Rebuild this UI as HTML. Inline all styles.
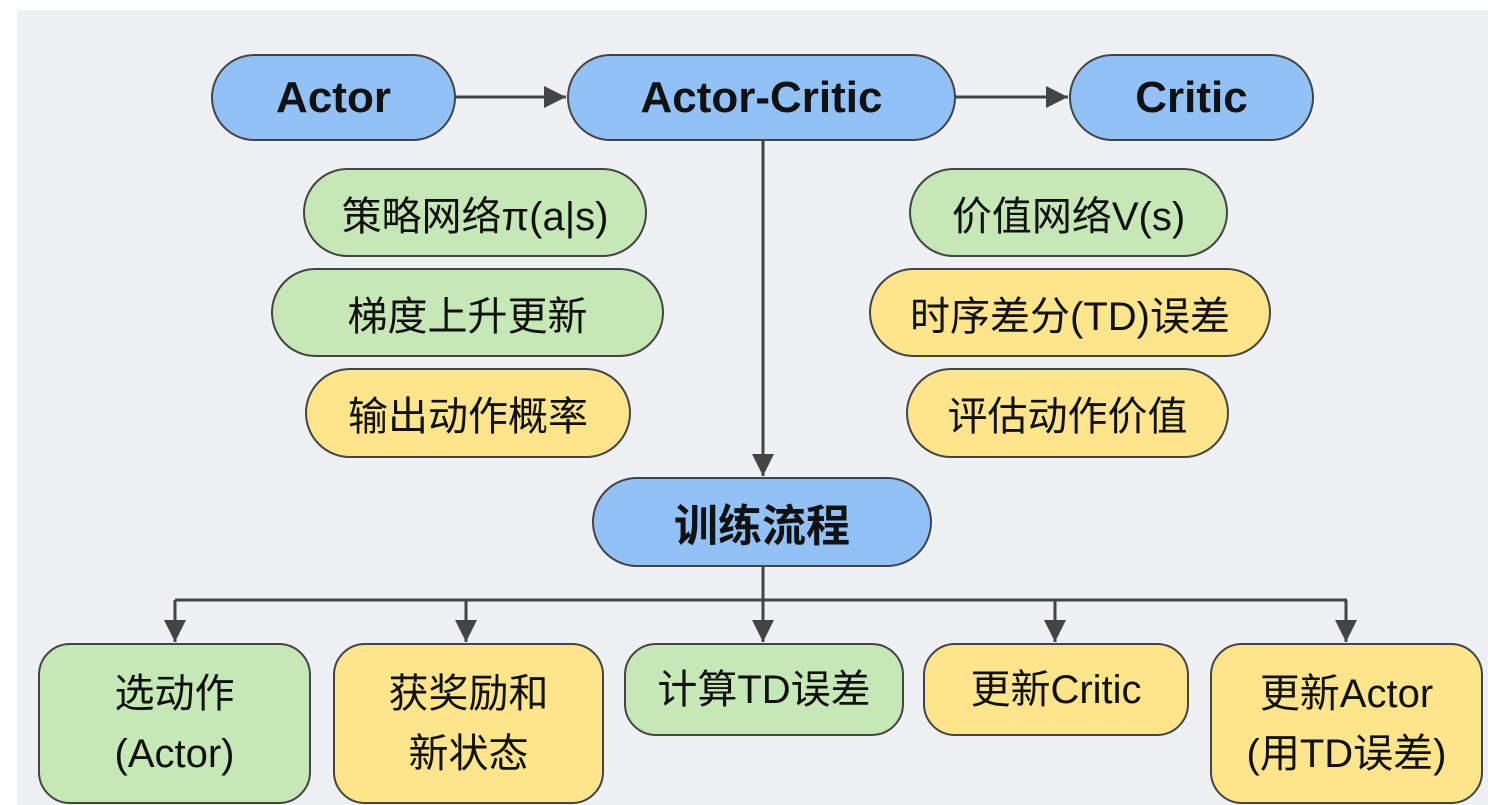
<!DOCTYPE html>
<html><head><meta charset="utf-8"><style>
body{margin:0;width:1488px;height:805px;background:#fff;position:relative;overflow:hidden;font-family:"Liberation Sans","Noto Sans CJK SC",sans-serif;}
#bg{position:absolute;left:17px;top:10px;width:1471px;height:795px;background:#eef1f3;}
.n{position:absolute;box-sizing:border-box;border:2px solid #444;display:flex;align-items:center;justify-content:center;text-align:center;color:#111;}
.b{background:#92c2f5;font-weight:bold;font-size:44px;border-radius:45px;}
.g{background:#c6e7b6;font-size:40px;border-radius:45px;}
.y{background:#fde58c;font-size:40px;border-radius:45px;}
.r{border-radius:32px;line-height:1.5;}
svg{position:absolute;left:0;top:0;}
</style></head><body>
<div id="bg"></div>
<svg width="1488" height="805">
<defs><marker id="a" markerWidth="10" markerHeight="10" refX="9" refY="5" orient="auto" markerUnits="userSpaceOnUse"><path d="M0,0 L0,0 L10,5 L0,10z" fill="#444"/></marker>
<marker id="h" viewBox="0 0 10 10" markerWidth="22" markerHeight="22" refX="10" refY="5" orient="auto" markerUnits="userSpaceOnUse"><path d="M0,0 L10,5 L0,10z" fill="#444"/></marker></defs>
<g stroke="#444" stroke-width="3" fill="none">
<line x1="455" y1="97" x2="566" y2="97" marker-end="url(#h)"/>
<line x1="955" y1="97" x2="1068" y2="97" marker-end="url(#h)"/>
<line x1="763" y1="140" x2="763" y2="476" marker-end="url(#h)"/>
<line x1="763" y1="567" x2="763" y2="642" marker-end="url(#h)"/>
<line x1="175" y1="600" x2="1347" y2="600"/>
<line x1="175" y1="600" x2="175" y2="642" marker-end="url(#h)"/>
<line x1="466" y1="600" x2="466" y2="642" marker-end="url(#h)"/>
<line x1="1055" y1="600" x2="1055" y2="642" marker-end="url(#h)"/>
<line x1="1346" y1="600" x2="1346" y2="642" marker-end="url(#h)"/>
</g></svg>
<div class="n b" style="left:211px;top:54px;width:245px;height:87px;">Actor</div>
<div class="n b" style="left:567px;top:54px;width:389px;height:87px;">Actor-Critic</div>
<div class="n b" style="left:1069px;top:54px;width:245px;height:87px;">Critic</div>
<div class="n g" style="left:303px;top:168px;width:344px;height:89px;">策略网络π(a|s)</div>
<div class="n g" style="left:271px;top:268px;width:393px;height:89px;">梯度上升更新</div>
<div class="n y" style="left:305px;top:368px;width:326px;height:90px;">输出动作概率</div>
<div class="n g" style="left:909px;top:168px;width:319px;height:89px;">价值网络V(s)</div>
<div class="n y" style="left:869px;top:268px;width:402px;height:89px;">时序差分(TD)误差</div>
<div class="n y" style="left:906px;top:368px;width:323px;height:90px;">评估动作价值</div>
<div class="n b" style="left:592px;top:477px;width:340px;height:90px;">训练流程</div>
<div class="n g r" style="left:38px;top:643px;width:273px;height:161px;">选动作<br>(Actor)</div>
<div class="n y r" style="left:333px;top:643px;width:271px;height:161px;">获奖励和<br>新状态</div>
<div class="n g r" style="left:624px;top:643px;width:280px;height:93px;">计算TD误差</div>
<div class="n y r" style="left:923px;top:643px;width:266px;height:93px;">更新Critic</div>
<div class="n y r" style="left:1210px;top:643px;width:273px;height:161px;">更新Actor<br>(用TD误差)</div>
</body></html>
